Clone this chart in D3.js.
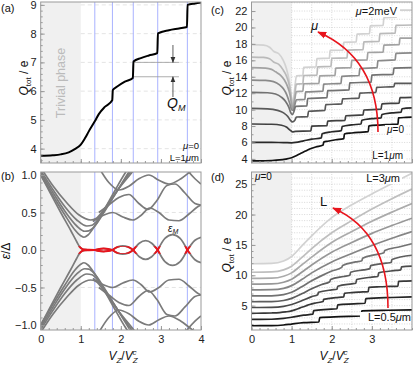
<!DOCTYPE html>
<html><head><meta charset="utf-8">
<script src="https://cdn.jsdelivr.net/npm/d3@7"></script>
<style>
body{margin:0;background:#fff}
svg text{font-family:"Liberation Sans",Arial,sans-serif}
</style></head><body>
<script>
// ---------- data ----------
// (a) and lowest curve of (c): mu=0, L=1um
const qMu0 = [[0,3.75],[0.3,3.77],[0.5,3.8],[0.7,3.87],[0.85,3.98],[1.0,4.14],[1.1,4.35],[1.2,4.6],[1.35,4.95],[1.45,5.2],[1.6,5.45],[1.785,5.68],[1.8,6.04],[1.9,6.15],[2.1,6.33],[2.3,6.46],[2.315,7.03],[2.5,7.15],[2.7,7.24],[2.91,7.32],[2.925,8.01],[3.2,8.12],[3.45,8.18],[3.65,8.23],[3.665,9.0],[3.85,9.05],[4,9.08]];
const majoranaX = [1.35, 1.79, 2.31, 2.92, 3.66];
const qmLevels = [6.5, 7.0];

// (b) Majorana branch, split into arches between zero crossings
const mjArches = [
  [[0,1.0],[0.25,0.75],[0.5,0.5],[0.75,0.26],[0.9,0.11],[0.97,0.045],[1.03,0.015],[1.1,0.005],[1.2,0.002],[1.35,0]],
  [[1.35,0],[1.46,0.014],[1.57,0.02],[1.68,0.014],[1.79,0]],
  [[1.79,0],[1.92,0.042],[2.05,0.055],[2.18,0.042],[2.31,0]],
  [[2.31,0],[2.46,0.09],[2.62,0.125],[2.77,0.09],[2.92,0]],
  [[2.92,0],[3.1,0.155],[3.29,0.205],[3.48,0.155],[3.66,0]],
  [[3.66,0],[3.85,0.13],[4,0.17]]
];
// (b) bulk levels, positive branch (drawn together with the -e mirror)
const bands = [
  [[0,1.0],[0.3,0.73],[0.6,0.47],[0.85,0.27],[1.0,0.19],[1.08,0.17],[1.18,0.2],[1.35,0.32],[1.6,0.55],[1.85,0.79],[2.1,1.02],[2.2,1.1]],
  [[0,1.03],[0.3,0.77],[0.6,0.52],[0.9,0.32],[1.1,0.25],[1.2,0.255],[1.35,0.32],[1.6,0.52],[1.9,0.78],[2.2,1.04],[2.3,1.12]],
  [[0,1.06],[0.3,0.81],[0.6,0.58],[0.9,0.4],[1.15,0.32],[1.28,0.33],[1.45,0.42],[1.75,0.66],[2.05,0.9],[2.35,1.12]],
  [[0,1.1],[0.3,0.86],[0.65,0.63],[0.95,0.47],[1.25,0.4],[1.38,0.42],[1.6,0.56],[1.95,0.82],[2.3,1.05],[2.4,1.12]],
  [[1.3,0.38],[1.55,0.46],[1.8,0.5],[2.05,0.44],[2.3,0.4],[2.5,0.46],[2.72,0.56],[2.95,0.5],[3.2,0.4],[3.45,0.39],[3.7,0.48],[3.9,0.57],[4,0.6]],
  [[1.45,0.5],[1.7,0.6],[1.95,0.7],[2.2,0.74],[2.45,0.62],[2.68,0.54],[2.9,0.66],[3.15,0.86],[3.35,0.88],[3.6,0.76],[3.85,0.62],[4,0.6]],
  [[1.45,1.1],[1.7,0.9],[1.95,0.8],[2.2,0.85],[2.45,0.95],[2.7,1.0],[2.95,0.93],[3.2,0.88],[3.5,0.95],[3.75,1.05],[3.9,1.1]],
  [[3.6,1.1],[3.85,0.95],[4,0.88]]
];

// (c) Q_tot for mu = 0 ... 2 meV (L = 1um)
const muValues = [0,0.25,0.5,0.75,1,1.25,1.5,1.75,2];
const qMu = [
  qMu0,
  [[0,6.0],[0.5,6.0],[0.8,5.99],[1.0,5.96],[1.1,6.0],[1.3,6.2],[1.5,6.4],[1.74,6.55],[1.76,7.05],[2.0,7.3],[2.24,7.45],[2.26,7.95],[2.5,8.15],[2.73,8.25],[2.75,8.7],[3.0,8.9],[3.23,9.0],[3.25,9.4],[3.5,9.6],[3.73,9.7],[3.75,10.1],[4,10.2]],
  [[0,8.25],[0.5,8.22],[0.75,8.1],[0.88,7.85],[0.96,7.5],[1.02,7.3],[1.1,7.35],[1.48,7.4],[1.5,8.0],[1.88,8.05],[1.9,8.6],[2.33,8.7],[2.35,9.25],[2.78,9.35],[2.8,9.95],[3.23,10.05],[3.25,10.7],[3.68,10.8],[3.7,11.45],[4,11.5]],
  [[0,10.15],[0.4,10.1],[0.65,9.9],[0.8,9.6],[0.9,9.2],[0.97,8.7],[1.02,8.5],[1.08,8.7],[1.12,9.1],[1.4,9.15],[1.42,9.8],[1.83,9.9],[1.85,10.6],[2.25,10.7],[2.27,11.3],[2.68,11.4],[2.7,12.0],[3.1,12.1],[3.12,12.7],[3.55,12.8],[3.57,13.2],[4,13.2]],
  [[0,12.1],[0.4,12.05],[0.6,11.9],[0.75,11.5],[0.85,11.0],[0.93,10.3],[0.98,9.6],[1.02,9.4],[1.06,9.8],[1.1,10.4],[1.38,10.45],[1.4,11.35],[1.88,11.45],[1.9,12.3],[2.43,12.4],[2.45,13.25],[2.98,13.35],[3.0,14.2],[3.53,14.3],[3.55,15.05],[4,15.1]],
  [[0,13.6],[0.35,13.55],[0.55,13.4],[0.7,13.0],[0.8,12.5],[0.88,11.8],[0.95,10.8],[1.0,10.0],[1.04,9.9],[1.08,10.6],[1.12,11.2],[1.33,11.25],[1.35,12.15],[1.78,12.25],[1.8,13.1],[2.23,13.2],[2.25,14.05],[2.68,14.15],[2.7,15.0],[3.13,15.1],[3.15,15.95],[3.58,16.05],[3.6,16.85],[4,16.9]],
  [[0,15.1],[0.35,15.05],[0.5,14.9],[0.6,14.6],[0.72,14.2],[0.82,13.6],[0.9,12.8],[0.96,11.8],[1.0,10.6],[1.03,10.1],[1.07,11.0],[1.12,12.2],[1.28,12.25],[1.3,13.15],[1.68,13.2],[1.7,14.1],[2.08,14.15],[2.1,15.05],[2.48,15.1],[2.5,16.0],[2.88,16.05],[2.9,16.95],[3.28,17.0],[3.3,17.85],[3.68,17.9],[3.7,18.7],[4,18.7]],
  [[0,16.4],[0.3,16.35],[0.45,16.2],[0.55,15.8],[0.68,15.5],[0.78,14.9],[0.87,14.1],[0.94,13.0],[0.99,11.5],[1.03,10.3],[1.07,11.5],[1.12,13.1],[1.28,13.15],[1.3,14.15],[1.63,14.2],[1.65,15.2],[1.98,15.25],[2.0,16.25],[2.38,16.3],[2.4,17.25],[2.78,17.3],[2.8,18.25],[3.18,18.3],[3.2,19.25],[3.58,19.3],[3.6,20.25],[4,20.3]],
  [[0,17.9],[0.3,17.85],[0.45,17.6],[0.55,17.1],[0.68,16.8],[0.78,16.1],[0.87,15.0],[0.94,13.5],[0.99,11.8],[1.03,10.5],[1.07,12.2],[1.12,14.1],[1.28,14.15],[1.3,15.15],[1.61,15.2],[1.63,16.2],[1.94,16.25],[1.96,17.2],[2.28,17.25],[2.3,18.2],[2.61,18.25],[2.63,19.2],[2.94,19.25],[2.96,20.2],[3.28,20.25],[3.3,21.2],[3.61,21.25],[3.63,22.1],[4,22.1]]
];

// (d) Q_tot for L = 0.5 ... 3 um (mu = 0)
const lengthValues = [0.5,0.75,1,1.25,1.5,1.75,2,2.25,2.5,2.75,3];
const qLen = [
  [[0,1.7],[0.5,1.72],[0.8,1.82],[1.0,1.98],[1.3,2.2],[1.68,2.32],[1.7,3.05],[2.2,3.2],[2.73,3.3],[2.75,4.15],[3.4,4.25],[4,4.3]],
  [[0,2.75],[0.5,2.77],[0.8,2.9],[1.0,3.1],[1.3,3.45],[1.53,3.6],[1.55,4.2],[1.9,4.4],[2.13,4.5],[2.15,5.15],[2.55,5.3],[2.83,5.4],[2.85,6.15],[3.5,6.35],[4,6.45]],
  qMu0,
  [[0,4.7],[0.5,4.73],[0.8,4.9],[1.0,5.2],[1.25,5.8],[1.5,6.5],[1.65,6.8],[1.67,7.2],[2.0,7.6],[2.13,7.7],[2.15,8.2],[2.5,8.6],[2.6,8.7],[2.62,9.3],[3.0,9.7],[3.15,9.8],[3.17,10.4],[3.6,10.8],[3.72,10.9],[3.74,11.4],[4,11.5]],
  [[0,5.65],[0.5,5.68],[0.8,5.85],[1.0,6.2],[1.25,6.95],[1.5,7.8],[1.75,8.5],[1.95,8.95],[1.97,9.3],[2.3,9.8],[2.45,10.0],[2.47,10.5],[2.8,10.9],[2.95,11.1],[2.97,11.6],[3.35,12.0],[3.48,12.1],[3.5,12.6],[4,13.3]],
  [[0,6.6],[0.5,6.63],[0.8,6.82],[1.0,7.2],[1.25,8.1],[1.5,9.1],[1.75,9.95],[2.0,10.7],[2.25,11.3],[2.27,11.6],[2.6,12.2],[2.75,12.4],[2.77,12.8],[3.1,13.4],[3.3,13.7],[3.32,14.1],[3.7,14.7],[4,15.2]],
  [[0,7.6],[0.5,7.63],[0.8,7.85],[1.0,8.3],[1.25,9.3],[1.5,10.4],[2.0,12.2],[2.5,13.6],[3.0,14.9],[3.5,16.1],[4,17.2]],
  [[0,8.55],[0.5,8.58],[0.8,8.85],[1.0,9.35],[1.25,10.5],[1.5,11.7],[2.0,13.8],[2.5,15.4],[3.0,16.9],[3.5,18.2],[4,19.4]],
  [[0,9.5],[0.5,9.53],[0.8,9.85],[1.0,10.4],[1.25,11.7],[1.5,13.0],[2.0,15.4],[2.5,17.2],[3.0,18.9],[3.5,20.4],[4,21.8]],
  [[0,10.5],[0.5,10.55],[0.8,10.9],[1.0,11.5],[1.25,12.9],[1.5,14.4],[2.0,17.0],[2.5,19.0],[3.0,20.9],[3.5,22.6],[4,24.2]],
  [[0,11.9],[0.5,11.95],[0.8,12.35],[1.0,13.1],[1.25,14.8],[1.5,16.5],[2.0,19.5],[2.5,21.6],[3.0,23.4],[3.5,25.1],[4,26.8]]
];

const xTicks = [0,1,2,3,4];
const xTicksD = [0,1,2,3];
const yTicksA = [4,5,6,7,8,9];
const yTicksB = [-1,-0.5,0,0.5,1];
const yTicksC = [4,6,8,10,12,14,16,18,20,22];
const yTicksD = [5,10,15,20,25];

// ---------- layout ----------
const svg = d3.select("body").append("svg").attr("width", 415).attr("height", 367);
const defs = svg.append("defs");
const FONT = '"Liberation Sans",Arial,sans-serif';

const xAB = d3.scaleLinear().domain([0,4]).range([40.7,201]);
const yA = d3.scaleLinear().domain([3.5,9.1]).range([163,2]);
const yB = d3.scaleLinear().domain([-1.067,1.04]).range([330,172]);
const xCD = d3.scaleLinear().domain([0,4]).range([251.5,412]);
const yC = d3.scaleLinear().domain([3.5,23.1]).range([163,2]);
const yD = d3.scaleLinear().domain([1,27]).range([330,172]);

function clipFor(id, x, y) {
  defs.append("clipPath").attr("id", id).append("rect")
    .attr("x", x.range()[0]).attr("y", y.range()[1])
    .attr("width", x.range()[1] - x.range()[0]).attr("height", y.range()[0] - y.range()[1]);
  return svg.append("g").attr("clip-path", `url(#${id})`);
}

function shade(g, x, y) {
  g.append("rect").attr("x", x(0)).attr("y", y.range()[1])
    .attr("width", x(1) - x(0)).attr("height", y.range()[0] - y.range()[1]).attr("fill", "#f0f0f0");
}

function axes(x, y, o) {
  const g = svg.append("g");
  const x0 = x.range()[0], y0 = y.range()[0];
  g.append("g").attr("transform", `translate(${x0},0)`)
    .call(d3.axisLeft(y).tickValues(o.yMinor).tickSize(-2).tickFormat(""));
  g.append("g").attr("transform", `translate(${x0},0)`)
    .call(d3.axisLeft(y).tickValues(o.yTicks).tickSize(-4).tickPadding(4).tickFormat(o.yFmt));
  g.append("g").attr("transform", `translate(0,${y0})`)
    .call(d3.axisBottom(x).tickValues(d3.range(0, 4.01, 0.2)).tickSize(-2).tickFormat(""));
  g.append("g").attr("transform", `translate(0,${y0})`)
    .call(d3.axisBottom(x).tickValues(o.xTicks).tickSize(-4).tickPadding(5)
      .tickFormat(o.xLabels ? d3.format("d") : ""));
  g.selectAll(".domain").remove();
  g.selectAll(".tick line").attr("stroke", "#999");
  g.selectAll("text").attr("font-size", 11).attr("fill", "#222").attr("font-family", FONT);
  svg.append("rect").attr("x", x0).attr("y", y.range()[1])
    .attr("width", x.range()[1] - x0).attr("height", y0 - y.range()[1])
    .attr("fill", "none").attr("stroke", "#999").attr("stroke-width", 1);
}

function dashedGrid(g, x, y, vals) {
  g.selectAll(null).data(vals).join("line")
    .attr("x1", x(1)).attr("x2", x(4)).attr("y1", d => y(d)).attr("y2", d => y(d))
    .attr("stroke", "#ddd").attr("stroke-dasharray", "4,3").attr("stroke-width", 0.8);
}

function dottedGrid(g, x, y, yVals) {
  g.selectAll(null).data(d3.range(1, 4.01, 0.5)).join("line")
    .attr("x1", d => x(d)).attr("x2", d => x(d)).attr("y1", y.range()[0]).attr("y2", y.range()[1])
    .attr("stroke", "#c8c8c8").attr("stroke-dasharray", "1,1.5").attr("stroke-width", 0.7);
  g.selectAll(null).data(yVals).join("line")
    .attr("x1", x(1)).attr("x2", x(4)).attr("y1", d => y(d)).attr("y2", d => y(d))
    .attr("stroke", "#c8c8c8").attr("stroke-dasharray", "1,1.5").attr("stroke-width", 0.7);
}

function blueLines(g, x, y) {
  g.selectAll(null).data(majoranaX).join("line")
    .attr("x1", d => x(d)).attr("x2", d => x(d)).attr("y1", y.range()[0]).attr("y2", y.range()[1])
    .attr("stroke", "#a9b3ff").attr("stroke-width", 1);
}

function label(x, y, parts, size, anchor, color) {
  const t = svg.append("text").attr("x", x).attr("y", y).attr("font-size", size)
    .attr("text-anchor", anchor || "start").attr("fill", color || "#111");
  parts.forEach(p => {
    const s = t.append("tspan").text(p.t);
    if (p.i) s.attr("font-style", "italic");
    if (p.dy) s.attr("dy", p.dy);
    if (p.fs) s.attr("font-size", p.fs);
  });
  return t;
}

function bgLabel(x, y, w, h) {
  svg.append("rect").attr("x", x).attr("y", y).attr("width", w).attr("height", h).attr("fill", "#fff");
}

// markers
function arrowMarker(id, color, size) {
  defs.append("marker").attr("id", id).attr("viewBox", "0 0 10 10").attr("refX", 9).attr("refY", 5)
    .attr("markerWidth", size).attr("markerHeight", size).attr("orient", "auto")
    .attr("markerUnits", "userSpaceOnUse")
    .append("path").attr("d", "M0,1 L10,5 L0,9 Z").attr("fill", color);
}
arrowMarker("arRed", "#e8141c", 9);
arrowMarker("arGray", "#333", 6);

const lineMono = (x, y) => d3.line().x(d => x(d[0])).y(d => y(d[1])).curve(d3.curveMonotoneX);
const shadeColor = (i, n) => d3.interpolateRgb("#111", "#d2d2d2")(i / (n - 1));

// ---------- (a) ----------
const gA = clipFor("clipA", xAB, yA);
shade(gA, xAB, yA);
dashedGrid(gA, xAB, yA, yTicksA);
blueLines(gA, xAB, yA);
gA.selectAll(null).data(qmLevels).join("line")
  .attr("x1", xAB(2.31)).attr("x2", xAB(3.45)).attr("y1", d => yA(d)).attr("y2", d => yA(d))
  .attr("stroke", "#999").attr("stroke-width", 0.8);
gA.append("path").datum(qMu0).attr("d", lineMono(xAB, yA))
  .attr("fill", "none").attr("stroke", "#000").attr("stroke-width", 2);
axes(xAB, yA, { yTicks: yTicksA, yMinor: d3.range(3.6, 9.1, 0.2), yFmt: d3.format("d"), xTicks, xLabels: false });

svg.append("line").attr("x1", xAB(3.3)).attr("x2", xAB(3.3)).attr("y1", 45).attr("y2", yA(7.0))
  .attr("stroke", "#333").attr("stroke-width", 0.8).attr("marker-end", "url(#arGray)");
svg.append("line").attr("x1", xAB(3.3)).attr("x2", xAB(3.3)).attr("y1", 97).attr("y2", yA(6.5))
  .attr("stroke", "#333").attr("stroke-width", 0.8).attr("marker-end", "url(#arGray)");
label(167, 108, [{ t: "Q", i: true }, { t: "M", i: true, fs: 9, dy: 3 }], 14);

svg.append("text").attr("transform", "translate(65,83) rotate(-90)").attr("text-anchor", "middle")
  .attr("font-size", 12.5).attr("fill", "#bbb").text("Trivial phase");
label(199, 149, [{ t: "μ", i: true }, { t: "=0" }], 9.5, "end");
label(199, 160.5, [{ t: "L=1" }, { t: "μ", i: true }, { t: "m" }], 9.5, "end");

// ---------- (b) ----------
const gB = clipFor("clipB", xAB, yB);
shade(gB, xAB, yB);
dashedGrid(gB, xAB, yB, [0.5, -0.5]);
blueLines(gB, xAB, yB);
const bandLine = lineMono(xAB, yB);
[1, -1].forEach(s => {
  gB.selectAll(null).data(bands).join("path")
    .attr("d", d => bandLine(d.map(p => [p[0], s * p[1]])))
    .attr("fill", "none").attr("stroke", "#7b7b7b").attr("stroke-width", 1.7);
});
[1, -1].forEach(s => {
  gB.selectAll(null).data(mjArches).join("path")
    .attr("d", d => bandLine(d.map(p => [p[0], s * p[1]])))
    .attr("fill", "none").attr("stroke", "#7b7b7b").attr("stroke-width", 1.7);
});
defs.append("clipPath").attr("id", "clipRed").append("rect")
  .attr("x", xAB(0.93)).attr("y", yB(0.05)).attr("width", xAB(4) - xAB(0.93)).attr("height", yB(-0.05) - yB(0.05));
const gRed = gB.append("g").attr("clip-path", "url(#clipRed)");
[1, -1].forEach(s => {
  gRed.selectAll(null).data(mjArches).join("path")
    .attr("d", d => bandLine(d.map(p => [p[0], s * p[1]])))
    .attr("fill", "none").attr("stroke", "#e8141c").attr("stroke-width", 2);
});
axes(xAB, yB, { yTicks: yTicksB, yMinor: d3.range(-1, 1.01, 0.1), yFmt: d3.format(".1f"), xTicks, xLabels: true });
label(168, 232, [{ t: "ε", i: true }, { t: "M", i: true, fs: 7, dy: 2 }], 10);

// ---------- (c) ----------
const gC = clipFor("clipC", xCD, yC);
shade(gC, xCD, yC);
dottedGrid(gC, xCD, yC, d3.range(4, 24, 1));
const lineC = lineMono(xCD, yC);
gC.selectAll(null).data(qMu.slice().reverse()).join("path")
  .attr("d", lineC).attr("fill", "none")
  .attr("stroke", (d, i) => shadeColor(muValues.length - 1 - i, muValues.length)).attr("stroke-width", 1.7);
axes(xCD, yC, { yTicks: yTicksC, yMinor: d3.range(4, 23, 1), yFmt: d3.format("d"), xTicks, xLabels: false });

// ---------- (d) ----------
const gD = clipFor("clipD", xCD, yD);
const topCurve = qLen[qLen.length - 1].filter(p => p[0] <= 1.0);
gD.append("path").datum(topCurve)
  .attr("d", d3.area().x(d => xCD(d[0])).y0(yD.range()[1]).y1(d => yD(d[1])).curve(d3.curveMonotoneX))
  .attr("fill", "#f0f0f0");
dottedGrid(gD, xCD, yD, d3.range(2, 27, 1));
const lineD = lineMono(xCD, yD);
gD.selectAll(null).data(qLen.slice().reverse()).join("path")
  .attr("d", lineD).attr("fill", "none")
  .attr("stroke", (d, i) => shadeColor(lengthValues.length - 1 - i, lengthValues.length)).attr("stroke-width", 1.7);
axes(xCD, yD, { yTicks: yTicksD, yMinor: d3.range(2, 27, 1), yFmt: d3.format("d"), xTicks: xTicksD, xLabels: true });

// annotations (c)
bgLabel(350, 6, 50, 11);
label(397, 15, [{ t: "μ", i: true }, { t: "=2meV" }], 11, "end");
bgLabel(385, 125, 20, 10);
label(404, 133, [{ t: "μ", i: true }, { t: "=0" }], 10, "end");
bgLabel(376, 151, 30, 10);
label(403, 159, [{ t: "L=1" }, { t: "μ", i: true }, { t: "m" }], 10, "end");
label(311, 30, [{ t: "μ", i: true }], 13);
svg.append("path").attr("d", "M378,132 Q378,58 318,32").attr("fill", "none")
  .attr("stroke", "#e8141c").attr("stroke-width", 1.6).attr("marker-end", "url(#arRed)");

// annotations (d)
label(255, 180, [{ t: "μ", i: true }, { t: "=0" }], 10);
bgLabel(354, 173, 48, 11);
label(400, 182, [{ t: "L=3" }, { t: "μ", i: true }, { t: "m" }], 11, "end");
label(320, 206, [{ t: "L" }], 13);
bgLabel(360, 312, 51, 11);
label(411, 321, [{ t: "L=0.5" }, { t: "μ", i: true }, { t: "m" }], 11, "end");
svg.append("path").attr("d", "M388,308 Q388,232 333,208").attr("fill", "none")
  .attr("stroke", "#e8141c").attr("stroke-width", 1.6).attr("marker-end", "url(#arRed)");

// panel letters and axis titles
label(1, 12, [{ t: "(a)" }], 11);
label(1, 180, [{ t: "(b)" }], 11);
label(211, 14, [{ t: "(c)" }], 11);
label(211, 181, [{ t: "(d)" }], 11);

function qTitle(x, y) {
  const t = svg.append("text").attr("transform", `translate(${x},${y}) rotate(-90)`)
    .attr("text-anchor", "middle").attr("font-size", 12).attr("fill", "#111");
  t.append("tspan").attr("font-style", "italic").text("Q");
  t.append("tspan").attr("font-size", 8).attr("dy", 3).text("tot");
  t.append("tspan").attr("dy", -3).text(" / e");
}
qTitle(28, 78);
qTitle(231, 78);
qTitle(231, 255);
svg.append("text").attr("transform", "translate(10,251) rotate(-90)").attr("text-anchor", "middle")
  .attr("font-size", 12).attr("fill", "#111")
  .call(t => { t.append("tspan").attr("font-style", "italic").text("ε"); t.append("tspan").text("/Δ"); });

function vzTitle(cx) {
  const t = svg.append("text").attr("x", cx).attr("y", 360).attr("text-anchor", "middle")
    .attr("font-size", 12).attr("fill", "#111");
  t.append("tspan").attr("font-style", "italic").text("V");
  t.append("tspan").attr("font-style", "italic").attr("font-size", 8).attr("dy", 3).text("Z");
  t.append("tspan").attr("dy", -3).text("/");
  t.append("tspan").attr("font-style", "italic").text("V");
  t.append("tspan").attr("font-style", "italic").attr("font-size", 8).attr("dy", 3).text("Z");
  t.append("tspan").attr("font-style", "italic").attr("font-size", 8).attr("dx", -5).attr("dy", -8).text("c");
}
vzTitle(123);
vzTitle(334);
</script></body></html>
